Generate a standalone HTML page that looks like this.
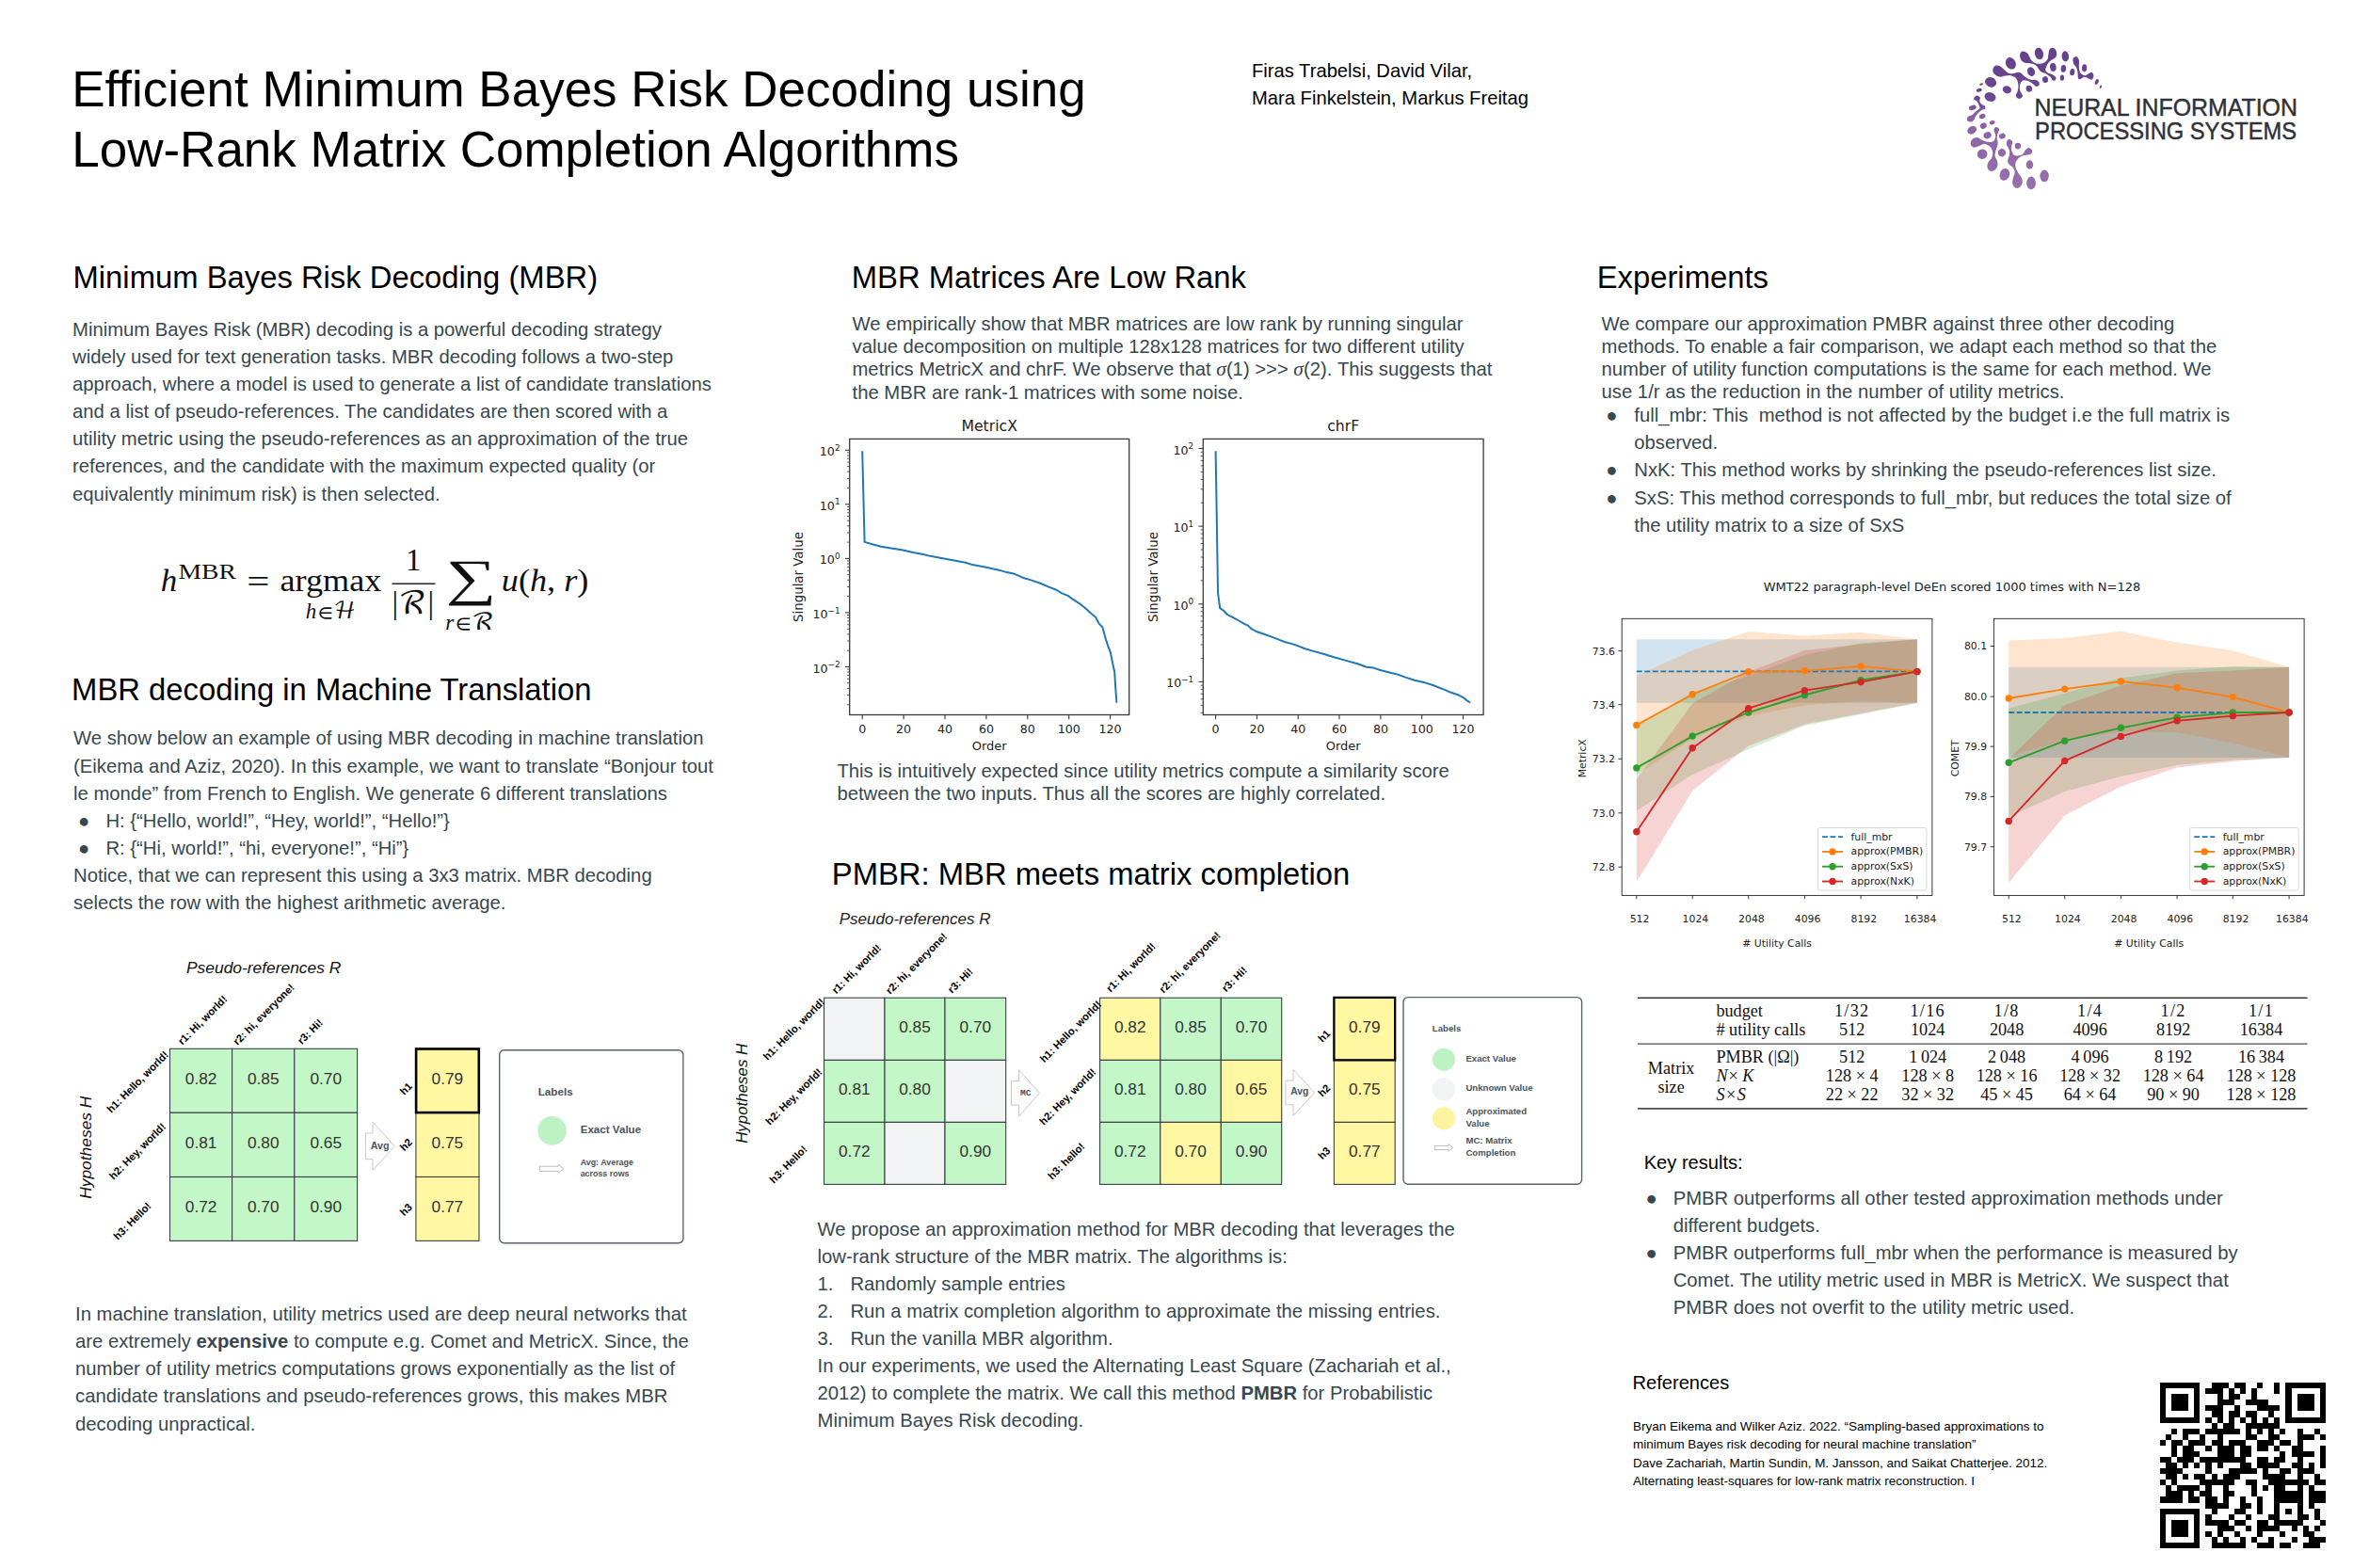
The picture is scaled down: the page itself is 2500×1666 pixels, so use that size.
<!DOCTYPE html>
<html lang="en"><head><meta charset="utf-8"><title>Efficient Minimum Bayes Risk Decoding using Low-Rank Matrix Completion Algorithms</title>
<style>
html,body{margin:0;padding:0;background:#fff;}
#pg{position:relative;width:2500px;height:1666px;overflow:hidden;background:#fff;font-family:"Liberation Sans",Arial,sans-serif;}
.t{position:absolute;white-space:nowrap;margin:0;}
.t b{font-weight:700;}
.bu{display:inline-block;width:34.4px;padding-left:4.9px;box-sizing:border-box;}
.bu2{display:inline-block;width:30.3px;padding-left:0.3px;box-sizing:border-box;}
.bu3{display:inline-block;width:30.2px;padding-left:1.1px;box-sizing:border-box;}
.nu{display:inline-block;width:34.9px;}
.sg{font-family:"Liberation Serif","DejaVu Serif",serif;font-style:italic;font-size:21.5px;line-height:0;}
svg{position:absolute;left:0;top:0;overflow:visible;}
svg text{white-space:pre;}
</style></head>
<body><div id="pg">
<div class="t " style="left:76.2px;top:62.73px;font-size:53.03px;line-height:64.2px;color:#000;">Efficient Minimum Bayes Risk Decoding using<br>Low-Rank Matrix Completion Algorithms</div>
<div class="t " style="left:1330.0px;top:60.80px;font-size:20.2px;line-height:29.0px;color:#000;">Firas Trabelsi, David Vilar,<br>Mara Finkelstein, Markus Freitag</div>
<div class="t " style="left:77.5px;top:275.13px;font-size:32.8px;line-height:40px;color:#000;">Minimum Bayes Risk Decoding (MBR)</div>
<div class="t " style="left:904.8px;top:275.13px;font-size:32.8px;line-height:40px;color:#000;">MBR Matrices Are Low Rank</div>
<div class="t " style="left:1696.7px;top:275.13px;font-size:32.8px;line-height:40px;color:#000;">Experiments</div>
<div class="t " style="left:76.1px;top:713.33px;font-size:32.8px;line-height:40px;color:#000;">MBR decoding in Machine Translation</div>
<div class="t " style="left:883.8px;top:908.53px;font-size:32.8px;line-height:40px;color:#000;">PMBR: MBR meets matrix completion</div>
<div class="t " style="left:77.1px;top:335.81px;font-size:20.262px;line-height:29.13px;color:#37474f;">Minimum Bayes Risk (MBR) decoding is a powerful decoding strategy<br>widely used for text generation tasks. MBR decoding follows a two-step<br>approach, where a model is used to generate a list of candidate translations<br>and a list of pseudo-references. The candidates are then scored with a<br>utility metric using the pseudo-references as an approximation of the true<br>references, and the candidate with the maximum expected quality (or<br>equivalently minimum risk) is then selected.</div>
<div class="t " style="left:78.1px;top:770.41px;font-size:20.262px;line-height:29.13px;color:#37474f;">We show below an example of using MBR decoding in machine translation<br>(Eikema and Aziz, 2020). In this example, we want to translate “Bonjour tout<br>le monde” from French to English. We generate 6 different translations<br><span class="bu">●</span>H: {“Hello, world!”, “Hey, world!”, “Hello!”}<br><span class="bu">●</span>R: {“Hi, world!”, “hi, everyone!”, “Hi”}<br>Notice, that we can represent this using a 3x3 matrix. MBR decoding<br>selects the row with the highest arithmetic average.</div>
<div class="t " style="left:80.1px;top:1382.11px;font-size:20.262px;line-height:29.13px;color:#37474f;">In machine translation, utility metrics used are deep neural networks that<br>are extremely <b>expensive</b> to compute e.g. Comet and MetricX. Since, the<br>number of utility metrics computations grows exponentially as the list of<br>candidate translations and pseudo-references grows, this makes MBR<br>decoding unpractical.</div>
<div class="t " style="left:905.5px;top:331.95px;font-size:20.262px;line-height:24.25px;color:#37474f;">We empirically show that MBR matrices are low rank by running singular<br>value decomposition on multiple 128x128 matrices for two different utility<br>metrics MetricX and chrF. We observe that <i class="sg">σ</i>(1) &gt;&gt;&gt; <i class="sg">σ</i>(2). This suggests that<br>the MBR are rank-1 matrices with some noise.</div>
<div class="t " style="left:889.4px;top:807.08px;font-size:20.262px;line-height:24.2px;color:#37474f;">This is intuitively expected since utility metrics compute a similarity score<br>between the two inputs. Thus all the scores are highly correlated.</div>
<div class="t " style="left:868.6px;top:1291.94px;font-size:20.262px;line-height:29.08px;color:#37474f;">We propose an approximation method for MBR decoding that leverages the<br>low-rank structure of the MBR matrix. The algorithms is:<br><span class="nu">1.</span>Randomly sample entries<br><span class="nu">2.</span>Run a matrix completion algorithm to approximate the missing entries.<br><span class="nu">3.</span>Run the vanilla MBR algorithm.<br>In our experiments, we used the Alternating Least Square (Zachariah et al.,<br>2012) to complete the matrix. We call this method <b>PMBR</b> for Probabilistic<br>Minimum Bayes Risk decoding.</div>
<div class="t " style="left:1701.6px;top:331.88px;font-size:20.262px;line-height:24.2px;color:#37474f;">We compare our approximation PMBR against three other decoding<br>methods. To enable a fair comparison, we adapt each method so that the<br>number of utility function computations is the same for each method. We<br>use 1/r as the reduction in the number of utility metrics.</div>
<div class="t " style="left:1706.0px;top:426.98px;font-size:20.262px;line-height:29.2px;color:#37474f;"><span class="bu2">●</span>full_mbr: This&nbsp; method is not affected by the budget i.e the full matrix is<br><span class="bu2"></span>observed.<br><span class="bu2">●</span>NxK: This method works by shrinking the pseudo-references list size.<br><span class="bu2">●</span>SxS: This method corresponds to full_mbr, but reduces the total size of<br><span class="bu2"></span>the utility matrix to a size of SxS</div>
<div class="t " style="left:1746.7px;top:1220.54px;font-size:20.1px;line-height:29px;color:#000;">Key results:</div>
<div class="t " style="left:1747.5px;top:1258.54px;font-size:20.262px;line-height:29.08px;color:#37474f;"><span class="bu3">●</span>PMBR outperforms all other tested approximation methods under<br><span class="bu3"></span>different budgets.<br><span class="bu3">●</span>PMBR outperforms full_mbr when the performance is measured by<br><span class="bu3"></span>Comet. The utility metric used in MBR is MetricX. We suspect that<br><span class="bu3"></span>PMBR does not overfit to the utility metric used.</div>
<div class="t " style="left:1734.5px;top:1454.94px;font-size:20.1px;line-height:29px;color:#000;">References</div>
<div class="t " style="left:1735.0px;top:1505.93px;font-size:13.48px;line-height:19.4px;color:#000;">Bryan Eikema and Wilker Aziz. 2022. “Sampling-based approximations to<br>minimum Bayes risk decoding for neural machine translation”<br>Dave Zachariah, Martin Sundin, M. Jansson, and Saikat Chatterjee. 2012.<br>Alternating least-squares for low-rank matrix reconstruction. I</div>
<svg width="2500" height="1666" viewBox="0 0 2500 1666" style="pointer-events:none">
<g fill="#111" font-family='"Liberation Serif","DejaVu Serif",serif'>
<text x="170.7" y="627.7" font-size="33" font-style="italic" textLength="17.5" lengthAdjust="spacingAndGlyphs">h</text>
<text x="189.4" y="615.1" font-size="23" textLength="61.5" lengthAdjust="spacingAndGlyphs">MBR</text>
<text x="262.3" y="628.5" font-size="33" textLength="24.2" lengthAdjust="spacingAndGlyphs">=</text>
<text x="297.5" y="627.7" font-size="33" textLength="107.8" lengthAdjust="spacingAndGlyphs">argmax</text>
<text x="324.7" y="656.6" font-size="23" font-style="italic">h</text>
<text x="337.5" y="656.6" font-size="20" font-family='"DejaVu Math TeX Gyre","DejaVu Serif","DejaVu Sans",serif' font-style="normal">∈</text>
<text x="354.5" y="656.6" font-size="24.5" textLength="23.5" lengthAdjust="spacingAndGlyphs" font-family='"DejaVu Math TeX Gyre","DejaVu Serif","DejaVu Sans",serif'>ℋ</text>
<text x="439.3" y="605.6" font-size="33" text-anchor="middle">1</text>
<rect x="416.5" y="619.5" width="45.9" height="1.4"/>
<text x="416.6" y="651.5" font-size="33">|</text>
<text x="423.0" y="651.5" font-size="33" textLength="30" lengthAdjust="spacingAndGlyphs" font-family='"DejaVu Math TeX Gyre","DejaVu Serif","DejaVu Sans",serif'>ℛ</text>
<text x="454.5" y="651.5" font-size="33">|</text>
<text x="473.8" y="632.3" font-size="54" textLength="54" lengthAdjust="spacingAndGlyphs" font-family='"Liberation Serif","DejaVu Serif",serif'>∑</text>
<text x="473.3" y="668.5" font-size="23" font-style="italic">r</text>
<text x="484.0" y="668.5" font-size="21" font-family='"DejaVu Math TeX Gyre","DejaVu Serif","DejaVu Sans",serif'>∈</text>
<text x="501.0" y="668.5" font-size="24.5" textLength="24" lengthAdjust="spacingAndGlyphs" font-family='"DejaVu Math TeX Gyre","DejaVu Serif","DejaVu Sans",serif'>ℛ</text>
<text x="532.8" y="627.7" font-size="33" textLength="92.5" lengthAdjust="spacingAndGlyphs"><tspan font-style="italic">u</tspan>(<tspan font-style="italic">h</tspan>, <tspan font-style="italic">r</tspan>)</text>
</g></svg>
<svg width="2500" height="1666" viewBox="0 0 2500 1666" style="pointer-events:none"><g font-family='"Liberation Sans",Arial,sans-serif'>
<rect x="180.5" y="1114.3" width="66.1" height="68.0" fill="#c3f7c8" stroke="#3a3f45" stroke-width="1.1"/>
<rect x="246.6" y="1114.3" width="66.2" height="68.0" fill="#c3f7c8" stroke="#3a3f45" stroke-width="1.1"/>
<rect x="312.8" y="1114.3" width="66.8" height="68.0" fill="#c3f7c8" stroke="#3a3f45" stroke-width="1.1"/>
<rect x="180.5" y="1182.3" width="66.1" height="68.2" fill="#c3f7c8" stroke="#3a3f45" stroke-width="1.1"/>
<rect x="246.6" y="1182.3" width="66.2" height="68.2" fill="#c3f7c8" stroke="#3a3f45" stroke-width="1.1"/>
<rect x="312.8" y="1182.3" width="66.8" height="68.2" fill="#c3f7c8" stroke="#3a3f45" stroke-width="1.1"/>
<rect x="180.5" y="1250.5" width="66.1" height="67.9" fill="#c3f7c8" stroke="#3a3f45" stroke-width="1.1"/>
<rect x="246.6" y="1250.5" width="66.2" height="67.9" fill="#c3f7c8" stroke="#3a3f45" stroke-width="1.1"/>
<rect x="312.8" y="1250.5" width="66.8" height="67.9" fill="#c3f7c8" stroke="#3a3f45" stroke-width="1.1"/>
<text x="213.6" y="1151.8" font-size="17.3" fill="#333333" text-anchor="middle">0.82</text>
<text x="279.7" y="1151.8" font-size="17.3" fill="#333333" text-anchor="middle">0.85</text>
<text x="346.2" y="1151.8" font-size="17.3" fill="#333333" text-anchor="middle">0.70</text>
<text x="213.6" y="1219.9" font-size="17.3" fill="#333333" text-anchor="middle">0.81</text>
<text x="279.7" y="1219.9" font-size="17.3" fill="#333333" text-anchor="middle">0.80</text>
<text x="346.2" y="1219.9" font-size="17.3" fill="#333333" text-anchor="middle">0.65</text>
<text x="213.6" y="1287.9" font-size="17.3" fill="#333333" text-anchor="middle">0.72</text>
<text x="279.7" y="1287.9" font-size="17.3" fill="#333333" text-anchor="middle">0.70</text>
<text x="346.2" y="1287.9" font-size="17.3" fill="#333333" text-anchor="middle">0.90</text>
<text x="198" y="1033.9" font-size="17.4" font-style="italic" fill="#111">Pseudo-references R</text>
<text transform="translate(96.8,1219.2) rotate(-90)" font-size="17.4" font-weight="400" font-style="italic" fill="#111" text-anchor="middle">Hypotheses H</text>
<text transform="translate(193.7,1110.8) rotate(-45)" font-size="11.2" font-weight="700" font-style="normal" fill="#000" text-anchor="start">r1: Hi, world!</text>
<text transform="translate(252.3,1111.0) rotate(-45)" font-size="11.2" font-weight="700" font-style="normal" fill="#000" text-anchor="start">r2: hi, everyone!</text>
<text transform="translate(320.7,1110.2) rotate(-45)" font-size="11.2" font-weight="700" font-style="normal" fill="#000" text-anchor="start">r3: Hi!</text>
<text transform="translate(118.2,1183.0) rotate(-45)" font-size="11.2" font-weight="700" font-style="normal" fill="#000" text-anchor="start">h1: Hello, world!</text>
<text transform="translate(120.7,1253.9) rotate(-45)" font-size="11.2" font-weight="700" font-style="normal" fill="#000" text-anchor="start">h2: Hey, world!</text>
<text transform="translate(125.2,1318.1) rotate(-45)" font-size="11.2" font-weight="700" font-style="normal" fill="#000" text-anchor="start">h3: Hello!</text>
<path d="M388.4,1204.0 L396.0,1204.0 L396.0,1192.1 L419.3,1217.8 L396.0,1243.5 L396.0,1231.6 L388.4,1231.6 Z" fill="#fdfdfb" stroke="#c9c9c9" stroke-width="1" stroke-linejoin="round"/>
<text x="403.7" y="1221.4" font-size="10.7" font-weight="700" fill="#4c535d" text-anchor="middle">Avg</text>
<rect x="441.9" y="1114.3" width="67.1" height="68.0" fill="#fff7a1" stroke="#3a3f45" stroke-width="1.1"/>
<rect x="441.9" y="1182.3" width="67.1" height="68.2" fill="#fff7a1" stroke="#3a3f45" stroke-width="1.1"/>
<rect x="441.9" y="1250.5" width="67.1" height="67.9" fill="#fff7a1" stroke="#3a3f45" stroke-width="1.1"/>
<text x="475.4" y="1151.8" font-size="17.3" fill="#333333" text-anchor="middle">0.79</text>
<text x="475.4" y="1219.9" font-size="17.3" fill="#333333" text-anchor="middle">0.75</text>
<text x="475.4" y="1287.9" font-size="17.3" fill="#333333" text-anchor="middle">0.77</text>
<rect x="442.1" y="1114.5" width="66.7" height="67.6" fill="none" stroke="#000" stroke-width="2.6"/>
<text transform="translate(429.4,1164.0) rotate(-45)" font-size="11.2" font-weight="700" font-style="normal" fill="#000" text-anchor="start">h1</text>
<text transform="translate(429.4,1223.5) rotate(-45)" font-size="11.2" font-weight="700" font-style="normal" fill="#000" text-anchor="start">h2</text>
<text transform="translate(429.4,1292.5) rotate(-45)" font-size="11.2" font-weight="700" font-style="normal" fill="#000" text-anchor="start">h3</text>
<rect x="530.7" y="1115.7" width="195.2" height="205" rx="5" ry="5" fill="#fff" stroke="#5a626e" stroke-width="1.4"/>
<text x="571.7" y="1164.2" font-size="11.7" font-weight="700" fill="#4c535d">Labels</text>
<circle cx="586.6" cy="1201.4" r="15.3" fill="#bdf2c4"/>
<text x="616.7" y="1204.3" font-size="11.6" font-weight="700" fill="#4c535d">Exact Value</text>
<path d="M573.3,1239.2 L593.1,1239.2 L593.1,1237.5 L599.1,1241.8 L593.1,1246.1 L593.1,1244.4 L573.3,1244.4 Z" fill="#fff" stroke="#b5b5b5" stroke-width="0.9" stroke-linejoin="round"/>
<text x="616.7" y="1238.2" font-size="8.9" font-weight="700" fill="#4c535d">Avg: Average</text>
<text x="616.7" y="1250.0" font-size="8.9" font-weight="700" fill="#4c535d">across rows</text>
<rect x="875.5" y="1060.2" width="64.5" height="66.2" fill="#f2f3f5" stroke="#3a3f45" stroke-width="1.1"/>
<rect x="940.0" y="1060.2" width="64.0" height="66.2" fill="#c3f7c8" stroke="#3a3f45" stroke-width="1.1"/>
<rect x="1004.0" y="1060.2" width="64.7" height="66.2" fill="#c3f7c8" stroke="#3a3f45" stroke-width="1.1"/>
<rect x="875.5" y="1126.4" width="64.5" height="66.0" fill="#c3f7c8" stroke="#3a3f45" stroke-width="1.1"/>
<rect x="940.0" y="1126.4" width="64.0" height="66.0" fill="#c3f7c8" stroke="#3a3f45" stroke-width="1.1"/>
<rect x="1004.0" y="1126.4" width="64.7" height="66.0" fill="#f2f3f5" stroke="#3a3f45" stroke-width="1.1"/>
<rect x="875.5" y="1192.4" width="64.5" height="66.0" fill="#c3f7c8" stroke="#3a3f45" stroke-width="1.1"/>
<rect x="940.0" y="1192.4" width="64.0" height="66.0" fill="#f2f3f5" stroke="#3a3f45" stroke-width="1.1"/>
<rect x="1004.0" y="1192.4" width="64.7" height="66.0" fill="#c3f7c8" stroke="#3a3f45" stroke-width="1.1"/>
<text x="972.0" y="1096.8" font-size="17.25" fill="#333333" text-anchor="middle">0.85</text>
<text x="1036.3" y="1096.8" font-size="17.25" fill="#333333" text-anchor="middle">0.70</text>
<text x="907.8" y="1162.9" font-size="17.25" fill="#333333" text-anchor="middle">0.81</text>
<text x="972.0" y="1162.9" font-size="17.25" fill="#333333" text-anchor="middle">0.80</text>
<text x="907.8" y="1228.9" font-size="17.25" fill="#333333" text-anchor="middle">0.72</text>
<text x="1036.3" y="1228.9" font-size="17.25" fill="#333333" text-anchor="middle">0.90</text>
<rect x="1168.6" y="1060.2" width="64.2" height="66.2" fill="#fff7a1" stroke="#3a3f45" stroke-width="1.1"/>
<rect x="1232.8" y="1060.2" width="64.5" height="66.2" fill="#c3f7c8" stroke="#3a3f45" stroke-width="1.1"/>
<rect x="1297.3" y="1060.2" width="64.4" height="66.2" fill="#c3f7c8" stroke="#3a3f45" stroke-width="1.1"/>
<rect x="1168.6" y="1126.4" width="64.2" height="66.0" fill="#c3f7c8" stroke="#3a3f45" stroke-width="1.1"/>
<rect x="1232.8" y="1126.4" width="64.5" height="66.0" fill="#c3f7c8" stroke="#3a3f45" stroke-width="1.1"/>
<rect x="1297.3" y="1126.4" width="64.4" height="66.0" fill="#fff7a1" stroke="#3a3f45" stroke-width="1.1"/>
<rect x="1168.6" y="1192.4" width="64.2" height="66.0" fill="#c3f7c8" stroke="#3a3f45" stroke-width="1.1"/>
<rect x="1232.8" y="1192.4" width="64.5" height="66.0" fill="#fff7a1" stroke="#3a3f45" stroke-width="1.1"/>
<rect x="1297.3" y="1192.4" width="64.4" height="66.0" fill="#c3f7c8" stroke="#3a3f45" stroke-width="1.1"/>
<text x="1200.7" y="1096.8" font-size="17.25" fill="#333333" text-anchor="middle">0.82</text>
<text x="1265.0" y="1096.8" font-size="17.25" fill="#333333" text-anchor="middle">0.85</text>
<text x="1329.5" y="1096.8" font-size="17.25" fill="#333333" text-anchor="middle">0.70</text>
<text x="1200.7" y="1162.9" font-size="17.25" fill="#333333" text-anchor="middle">0.81</text>
<text x="1265.0" y="1162.9" font-size="17.25" fill="#333333" text-anchor="middle">0.80</text>
<text x="1329.5" y="1162.9" font-size="17.25" fill="#333333" text-anchor="middle">0.65</text>
<text x="1200.7" y="1228.9" font-size="17.25" fill="#333333" text-anchor="middle">0.72</text>
<text x="1265.0" y="1228.9" font-size="17.25" fill="#333333" text-anchor="middle">0.70</text>
<text x="1329.5" y="1228.9" font-size="17.25" fill="#333333" text-anchor="middle">0.90</text>
<text x="891.7" y="982.4" font-size="17.05" font-style="italic" fill="#222">Pseudo-references R</text>
<text transform="translate(793.5,1161.8) rotate(-90)" font-size="16.9" font-weight="400" font-style="italic" fill="#111" text-anchor="middle">Hypotheses H</text>
<text transform="translate(888.5,1056.5) rotate(-45)" font-size="11.2" font-weight="700" font-style="normal" fill="#000" text-anchor="start">r1: Hi, world!</text>
<text transform="translate(945.8,1056.9) rotate(-45)" font-size="11.2" font-weight="700" font-style="normal" fill="#000" text-anchor="start">r2: hi, everyone!</text>
<text transform="translate(1011.6,1055.9) rotate(-45)" font-size="11.2" font-weight="700" font-style="normal" fill="#000" text-anchor="start">r3: Hi!</text>
<text transform="translate(815.4,1127.0) rotate(-45)" font-size="11.2" font-weight="700" font-style="normal" fill="#000" text-anchor="start">h1: Hello, world!</text>
<text transform="translate(818.1,1195.9) rotate(-45)" font-size="11.2" font-weight="700" font-style="normal" fill="#000" text-anchor="start">h2: Hey, world!</text>
<text transform="translate(822.3,1257.9) rotate(-45)" font-size="11.2" font-weight="700" font-style="normal" fill="#000" text-anchor="start">h3: Hello!</text>
<text transform="translate(1180.0,1054.7) rotate(-45)" font-size="11.2" font-weight="700" font-style="normal" fill="#000" text-anchor="start">r1: Hi, world!</text>
<text transform="translate(1236.3,1055.7) rotate(-45)" font-size="11.2" font-weight="700" font-style="normal" fill="#000" text-anchor="start">r2: hi, everyone!</text>
<text transform="translate(1302.7,1054.5) rotate(-45)" font-size="11.2" font-weight="700" font-style="normal" fill="#000" text-anchor="start">r3: Hi!</text>
<text transform="translate(1109.4,1129.5) rotate(-45)" font-size="11.2" font-weight="700" font-style="normal" fill="#000" text-anchor="start">h1: Hello, world!</text>
<text transform="translate(1109.0,1195.9) rotate(-45)" font-size="11.2" font-weight="700" font-style="normal" fill="#000" text-anchor="start">h2: Hey, world!</text>
<text transform="translate(1118.0,1253.9) rotate(-45)" font-size="11.2" font-weight="700" font-style="normal" fill="#000" text-anchor="start">h3: hello!</text>
<path d="M1074.5,1148.6 L1082.5,1148.6 L1082.5,1136.8 L1104.5,1161.4 L1082.5,1186.1 L1082.5,1174.2 L1074.5,1174.2 Z" fill="#fdfdfb" stroke="#c9c9c9" stroke-width="1" stroke-linejoin="round"/>
<text x="1089.7" y="1164.1" font-size="9.6" font-weight="700" fill="#4c535d" text-anchor="middle" font-family='"Liberation Mono",monospace'>MC</text>
<path d="M1366.0,1148.1 L1374.0,1148.1 L1374.0,1136.2 L1396.5,1160.9 L1374.0,1185.6 L1374.0,1173.8 L1366.0,1173.8 Z" fill="#fdfdfb" stroke="#c9c9c9" stroke-width="1" stroke-linejoin="round"/>
<text x="1380.8" y="1163.0" font-size="10.3" font-weight="700" fill="#4c535d" text-anchor="middle">Avg</text>
<rect x="1417.4" y="1060.2" width="64.8" height="66.2" fill="#fff7a1" stroke="#3a3f45" stroke-width="1.1"/>
<rect x="1417.4" y="1126.4" width="64.8" height="66.0" fill="#fff7a1" stroke="#3a3f45" stroke-width="1.1"/>
<rect x="1417.4" y="1192.4" width="64.8" height="66.0" fill="#fff7a1" stroke="#3a3f45" stroke-width="1.1"/>
<text x="1449.8" y="1096.8" font-size="17.25" fill="#333333" text-anchor="middle">0.79</text>
<text x="1449.8" y="1162.9" font-size="17.25" fill="#333333" text-anchor="middle">0.75</text>
<text x="1449.8" y="1228.9" font-size="17.25" fill="#333333" text-anchor="middle">0.77</text>
<rect x="1417.4" y="1059.9" width="64.8" height="66.5" fill="none" stroke="#000" stroke-width="2.3"/>
<text transform="translate(1404.9,1108.0) rotate(-45)" font-size="11.2" font-weight="700" font-style="normal" fill="#000" text-anchor="start">h1</text>
<text transform="translate(1404.9,1166.0) rotate(-45)" font-size="11.2" font-weight="700" font-style="normal" fill="#000" text-anchor="start">h2</text>
<text transform="translate(1404.9,1232.5) rotate(-45)" font-size="11.2" font-weight="700" font-style="normal" fill="#000" text-anchor="start">h3</text>
<rect x="1491.0" y="1059.6" width="189.6" height="198.6" rx="5" ry="5" fill="#fff" stroke="#5a626e" stroke-width="1.4"/>
<text x="1521.8" y="1096.2" font-size="9.65" font-weight="700" fill="#4c535d">Labels</text>
<circle cx="1534.0" cy="1125.8" r="12.1" fill="#bdf2c4"/>
<circle cx="1534.0" cy="1157.1" r="12.1" fill="#f2f3f5"/>
<circle cx="1534.0" cy="1188.3" r="12.1" fill="#fff3a0"/>
<text x="1557.4" y="1127.8" font-size="9.65" font-weight="700" fill="#4c535d">Exact Value</text>
<text x="1557.4" y="1159.4" font-size="9.65" font-weight="700" fill="#4c535d">Unknown Value</text>
<text x="1557.4" y="1184.0" font-size="9.65" font-weight="700" fill="#4c535d">Approximated</text>
<text x="1557.4" y="1196.6" font-size="9.65" font-weight="700" fill="#4c535d">Value</text>
<text x="1557.4" y="1215.2" font-size="9.65" font-weight="700" fill="#4c535d">MC: Matrix</text>
<text x="1557.4" y="1227.8" font-size="9.65" font-weight="700" fill="#4c535d">Completion</text>
<path d="M1524.2,1217.4 L1538.9,1217.4 L1538.9,1215.8 L1543.9,1219.5 L1538.9,1223.2 L1538.9,1221.6 L1524.2,1221.6 Z" fill="#fff" stroke="#b5b5b5" stroke-width="0.9" stroke-linejoin="round"/>
</g></svg>
<svg width="2500" height="1666" viewBox="0 0 2500 1666" style="pointer-events:none"><g font-family='"DejaVu Sans",Verdana,sans-serif'>
<path d="M916.2,479.2 L918.6,575.9 L926.6,578.3 L936.3,580.7 L948.4,582.7 L959.3,584.6 L970.2,587.0 L979.9,588.7 L989.6,591.1 L1004.2,593.8 L1013.8,595.5 L1026.0,597.7 L1033.2,600.1 L1047.8,602.8 L1062.3,605.9 L1069.6,608.1 L1078.1,609.8 L1086.5,613.7 L1096.2,616.6 L1105.9,620.0 L1113.2,623.1 L1122.9,627.0 L1127.7,630.1 L1135.0,633.1 L1139.8,636.7 L1147.1,641.3 L1154.4,647.3 L1159.2,651.7 L1164.1,655.8 L1167.7,662.6 L1171.3,666.2 L1175.0,679.6 L1177.4,686.8 L1179.8,692.9 L1182.2,705.0 L1184.2,714.0 L1185.2,730.5 L1186.4,746.7" fill="none" stroke="#1f77b4" stroke-width="2.0" stroke-linejoin="round" stroke-linecap="butt"/>
<rect x="902.7" y="466.4" width="297.0" height="293.1" fill="none" stroke="#3a3a3a" stroke-width="1.3"/>
<line x1="916.2" y1="759.5" x2="916.2" y2="764.3" stroke="#333" stroke-width="1.05"/>
<text x="916.2" y="779.1" font-size="12.6" text-anchor="middle" fill="#222">0</text>
<line x1="960.1" y1="759.5" x2="960.1" y2="764.3" stroke="#333" stroke-width="1.05"/>
<text x="960.1" y="779.1" font-size="12.6" text-anchor="middle" fill="#222">20</text>
<line x1="1004.0" y1="759.5" x2="1004.0" y2="764.3" stroke="#333" stroke-width="1.05"/>
<text x="1004.0" y="779.1" font-size="12.6" text-anchor="middle" fill="#222">40</text>
<line x1="1047.9" y1="759.5" x2="1047.9" y2="764.3" stroke="#333" stroke-width="1.05"/>
<text x="1047.9" y="779.1" font-size="12.6" text-anchor="middle" fill="#222">60</text>
<line x1="1091.8" y1="759.5" x2="1091.8" y2="764.3" stroke="#333" stroke-width="1.05"/>
<text x="1091.8" y="779.1" font-size="12.6" text-anchor="middle" fill="#222">80</text>
<line x1="1135.7" y1="759.5" x2="1135.7" y2="764.3" stroke="#333" stroke-width="1.05"/>
<text x="1135.7" y="779.1" font-size="12.6" text-anchor="middle" fill="#222">100</text>
<line x1="1179.6" y1="759.5" x2="1179.6" y2="764.3" stroke="#333" stroke-width="1.05"/>
<text x="1179.6" y="779.1" font-size="12.6" text-anchor="middle" fill="#222">120</text>
<text x="1051.2" y="796.5" font-size="13.0" text-anchor="middle" fill="#222">Order</text>
<line x1="897.9" y1="708.5" x2="902.7" y2="708.5" stroke="#333" stroke-width="1.05"/>
<text x="892.5" y="714.5" font-size="12.6" text-anchor="end" fill="#222">10<tspan font-size="8.8" dy="-5.4">−2</tspan></text>
<line x1="897.9" y1="650.9" x2="902.7" y2="650.9" stroke="#333" stroke-width="1.05"/>
<text x="892.5" y="656.9" font-size="12.6" text-anchor="end" fill="#222">10<tspan font-size="8.8" dy="-5.4">−1</tspan></text>
<line x1="897.9" y1="593.4" x2="902.7" y2="593.4" stroke="#333" stroke-width="1.05"/>
<text x="892.5" y="599.4" font-size="12.6" text-anchor="end" fill="#222">10<tspan font-size="8.8" dy="-5.4">0</tspan></text>
<line x1="897.9" y1="535.8" x2="902.7" y2="535.8" stroke="#333" stroke-width="1.05"/>
<text x="892.5" y="541.8" font-size="12.6" text-anchor="end" fill="#222">10<tspan font-size="8.8" dy="-5.4">1</tspan></text>
<line x1="897.9" y1="478.3" x2="902.7" y2="478.3" stroke="#333" stroke-width="1.05"/>
<text x="892.5" y="484.3" font-size="12.6" text-anchor="end" fill="#222">10<tspan font-size="8.8" dy="-5.4">2</tspan></text>
<line x1="900.0" y1="748.7" x2="902.7" y2="748.7" stroke="#333" stroke-width="0.8"/>
<line x1="900.0" y1="738.6" x2="902.7" y2="738.6" stroke="#333" stroke-width="0.8"/>
<line x1="900.0" y1="731.4" x2="902.7" y2="731.4" stroke="#333" stroke-width="0.8"/>
<line x1="900.0" y1="725.8" x2="902.7" y2="725.8" stroke="#333" stroke-width="0.8"/>
<line x1="900.0" y1="721.3" x2="902.7" y2="721.3" stroke="#333" stroke-width="0.8"/>
<line x1="900.0" y1="717.4" x2="902.7" y2="717.4" stroke="#333" stroke-width="0.8"/>
<line x1="900.0" y1="714.1" x2="902.7" y2="714.1" stroke="#333" stroke-width="0.8"/>
<line x1="900.0" y1="711.1" x2="902.7" y2="711.1" stroke="#333" stroke-width="0.8"/>
<line x1="900.0" y1="691.2" x2="902.7" y2="691.2" stroke="#333" stroke-width="0.8"/>
<line x1="900.0" y1="681.0" x2="902.7" y2="681.0" stroke="#333" stroke-width="0.8"/>
<line x1="900.0" y1="673.9" x2="902.7" y2="673.9" stroke="#333" stroke-width="0.8"/>
<line x1="900.0" y1="668.3" x2="902.7" y2="668.3" stroke="#333" stroke-width="0.8"/>
<line x1="900.0" y1="663.7" x2="902.7" y2="663.7" stroke="#333" stroke-width="0.8"/>
<line x1="900.0" y1="659.9" x2="902.7" y2="659.9" stroke="#333" stroke-width="0.8"/>
<line x1="900.0" y1="656.5" x2="902.7" y2="656.5" stroke="#333" stroke-width="0.8"/>
<line x1="900.0" y1="653.6" x2="902.7" y2="653.6" stroke="#333" stroke-width="0.8"/>
<line x1="900.0" y1="633.6" x2="902.7" y2="633.6" stroke="#333" stroke-width="0.8"/>
<line x1="900.0" y1="623.5" x2="902.7" y2="623.5" stroke="#333" stroke-width="0.8"/>
<line x1="900.0" y1="616.3" x2="902.7" y2="616.3" stroke="#333" stroke-width="0.8"/>
<line x1="900.0" y1="610.7" x2="902.7" y2="610.7" stroke="#333" stroke-width="0.8"/>
<line x1="900.0" y1="606.2" x2="902.7" y2="606.2" stroke="#333" stroke-width="0.8"/>
<line x1="900.0" y1="602.3" x2="902.7" y2="602.3" stroke="#333" stroke-width="0.8"/>
<line x1="900.0" y1="599.0" x2="902.7" y2="599.0" stroke="#333" stroke-width="0.8"/>
<line x1="900.0" y1="596.0" x2="902.7" y2="596.0" stroke="#333" stroke-width="0.8"/>
<line x1="900.0" y1="576.1" x2="902.7" y2="576.1" stroke="#333" stroke-width="0.8"/>
<line x1="900.0" y1="565.9" x2="902.7" y2="565.9" stroke="#333" stroke-width="0.8"/>
<line x1="900.0" y1="558.8" x2="902.7" y2="558.8" stroke="#333" stroke-width="0.8"/>
<line x1="900.0" y1="553.2" x2="902.7" y2="553.2" stroke="#333" stroke-width="0.8"/>
<line x1="900.0" y1="548.6" x2="902.7" y2="548.6" stroke="#333" stroke-width="0.8"/>
<line x1="900.0" y1="544.8" x2="902.7" y2="544.8" stroke="#333" stroke-width="0.8"/>
<line x1="900.0" y1="541.4" x2="902.7" y2="541.4" stroke="#333" stroke-width="0.8"/>
<line x1="900.0" y1="538.5" x2="902.7" y2="538.5" stroke="#333" stroke-width="0.8"/>
<line x1="900.0" y1="518.5" x2="902.7" y2="518.5" stroke="#333" stroke-width="0.8"/>
<line x1="900.0" y1="508.4" x2="902.7" y2="508.4" stroke="#333" stroke-width="0.8"/>
<line x1="900.0" y1="501.2" x2="902.7" y2="501.2" stroke="#333" stroke-width="0.8"/>
<line x1="900.0" y1="495.6" x2="902.7" y2="495.6" stroke="#333" stroke-width="0.8"/>
<line x1="900.0" y1="491.1" x2="902.7" y2="491.1" stroke="#333" stroke-width="0.8"/>
<line x1="900.0" y1="487.2" x2="902.7" y2="487.2" stroke="#333" stroke-width="0.8"/>
<line x1="900.0" y1="483.9" x2="902.7" y2="483.9" stroke="#333" stroke-width="0.8"/>
<line x1="900.0" y1="480.9" x2="902.7" y2="480.9" stroke="#333" stroke-width="0.8"/>
<text x="1051.2" y="457.8" font-size="15.7" text-anchor="middle" fill="#222">MetricX</text>
<text transform="translate(852.8,613.0) rotate(-90)" font-size="13.35" text-anchor="middle" fill="#222">Singular Value</text>
<path d="M1291.6,479.2 L1292.8,551.2 L1294.0,629.9 L1296.2,646.1 L1300.6,649.3 L1304.2,653.2 L1310.2,656.1 L1316.3,659.5 L1322.4,663.1 L1326.0,664.6 L1329.6,668.2 L1335.7,671.3 L1343.0,673.8 L1350.2,676.4 L1357.5,679.1 L1364.8,682.0 L1372.0,683.9 L1379.3,686.4 L1386.6,689.3 L1393.8,691.4 L1406.0,694.8 L1418.1,698.5 L1430.2,701.9 L1442.3,705.3 L1452.0,708.7 L1459.3,709.6 L1466.5,712.0 L1476.2,714.5 L1485.9,716.9 L1493.2,719.6 L1502.9,722.7 L1512.6,724.9 L1522.3,728.0 L1532.0,731.7 L1541.7,735.8 L1548.9,738.2 L1555.0,741.4 L1558.6,744.3 L1562.2,746.5" fill="none" stroke="#1f77b4" stroke-width="2.0" stroke-linejoin="round" stroke-linecap="butt"/>
<rect x="1278.3" y="466.4" width="297.8" height="293.1" fill="none" stroke="#3a3a3a" stroke-width="1.3"/>
<line x1="1291.6" y1="759.5" x2="1291.6" y2="764.3" stroke="#333" stroke-width="1.05"/>
<text x="1291.6" y="779.1" font-size="12.6" text-anchor="middle" fill="#222">0</text>
<line x1="1335.4" y1="759.5" x2="1335.4" y2="764.3" stroke="#333" stroke-width="1.05"/>
<text x="1335.4" y="779.1" font-size="12.6" text-anchor="middle" fill="#222">20</text>
<line x1="1379.2" y1="759.5" x2="1379.2" y2="764.3" stroke="#333" stroke-width="1.05"/>
<text x="1379.2" y="779.1" font-size="12.6" text-anchor="middle" fill="#222">40</text>
<line x1="1423.0" y1="759.5" x2="1423.0" y2="764.3" stroke="#333" stroke-width="1.05"/>
<text x="1423.0" y="779.1" font-size="12.6" text-anchor="middle" fill="#222">60</text>
<line x1="1466.9" y1="759.5" x2="1466.9" y2="764.3" stroke="#333" stroke-width="1.05"/>
<text x="1466.9" y="779.1" font-size="12.6" text-anchor="middle" fill="#222">80</text>
<line x1="1510.7" y1="759.5" x2="1510.7" y2="764.3" stroke="#333" stroke-width="1.05"/>
<text x="1510.7" y="779.1" font-size="12.6" text-anchor="middle" fill="#222">100</text>
<line x1="1554.5" y1="759.5" x2="1554.5" y2="764.3" stroke="#333" stroke-width="1.05"/>
<text x="1554.5" y="779.1" font-size="12.6" text-anchor="middle" fill="#222">120</text>
<text x="1427.2" y="796.5" font-size="13.0" text-anchor="middle" fill="#222">Order</text>
<line x1="1273.5" y1="724.4" x2="1278.3" y2="724.4" stroke="#333" stroke-width="1.05"/>
<text x="1268.2" y="730.4" font-size="12.6" text-anchor="end" fill="#222">10<tspan font-size="8.8" dy="-5.4">−1</tspan></text>
<line x1="1273.5" y1="641.8" x2="1278.3" y2="641.8" stroke="#333" stroke-width="1.05"/>
<text x="1268.2" y="647.8" font-size="12.6" text-anchor="end" fill="#222">10<tspan font-size="8.8" dy="-5.4">0</tspan></text>
<line x1="1273.5" y1="559.1" x2="1278.3" y2="559.1" stroke="#333" stroke-width="1.05"/>
<text x="1268.2" y="565.1" font-size="12.6" text-anchor="end" fill="#222">10<tspan font-size="8.8" dy="-5.4">1</tspan></text>
<line x1="1273.5" y1="476.5" x2="1278.3" y2="476.5" stroke="#333" stroke-width="1.05"/>
<text x="1268.2" y="482.5" font-size="12.6" text-anchor="end" fill="#222">10<tspan font-size="8.8" dy="-5.4">2</tspan></text>
<line x1="1275.6" y1="757.3" x2="1278.3" y2="757.3" stroke="#333" stroke-width="0.8"/>
<line x1="1275.6" y1="749.3" x2="1278.3" y2="749.3" stroke="#333" stroke-width="0.8"/>
<line x1="1275.6" y1="742.8" x2="1278.3" y2="742.8" stroke="#333" stroke-width="0.8"/>
<line x1="1275.6" y1="737.2" x2="1278.3" y2="737.2" stroke="#333" stroke-width="0.8"/>
<line x1="1275.6" y1="732.4" x2="1278.3" y2="732.4" stroke="#333" stroke-width="0.8"/>
<line x1="1275.6" y1="728.2" x2="1278.3" y2="728.2" stroke="#333" stroke-width="0.8"/>
<line x1="1275.6" y1="699.6" x2="1278.3" y2="699.6" stroke="#333" stroke-width="0.8"/>
<line x1="1275.6" y1="685.0" x2="1278.3" y2="685.0" stroke="#333" stroke-width="0.8"/>
<line x1="1275.6" y1="674.7" x2="1278.3" y2="674.7" stroke="#333" stroke-width="0.8"/>
<line x1="1275.6" y1="666.7" x2="1278.3" y2="666.7" stroke="#333" stroke-width="0.8"/>
<line x1="1275.6" y1="660.1" x2="1278.3" y2="660.1" stroke="#333" stroke-width="0.8"/>
<line x1="1275.6" y1="654.6" x2="1278.3" y2="654.6" stroke="#333" stroke-width="0.8"/>
<line x1="1275.6" y1="649.8" x2="1278.3" y2="649.8" stroke="#333" stroke-width="0.8"/>
<line x1="1275.6" y1="645.6" x2="1278.3" y2="645.6" stroke="#333" stroke-width="0.8"/>
<line x1="1275.6" y1="616.9" x2="1278.3" y2="616.9" stroke="#333" stroke-width="0.8"/>
<line x1="1275.6" y1="602.4" x2="1278.3" y2="602.4" stroke="#333" stroke-width="0.8"/>
<line x1="1275.6" y1="592.0" x2="1278.3" y2="592.0" stroke="#333" stroke-width="0.8"/>
<line x1="1275.6" y1="584.0" x2="1278.3" y2="584.0" stroke="#333" stroke-width="0.8"/>
<line x1="1275.6" y1="577.5" x2="1278.3" y2="577.5" stroke="#333" stroke-width="0.8"/>
<line x1="1275.6" y1="572.0" x2="1278.3" y2="572.0" stroke="#333" stroke-width="0.8"/>
<line x1="1275.6" y1="567.2" x2="1278.3" y2="567.2" stroke="#333" stroke-width="0.8"/>
<line x1="1275.6" y1="562.9" x2="1278.3" y2="562.9" stroke="#333" stroke-width="0.8"/>
<line x1="1275.6" y1="534.3" x2="1278.3" y2="534.3" stroke="#333" stroke-width="0.8"/>
<line x1="1275.6" y1="519.7" x2="1278.3" y2="519.7" stroke="#333" stroke-width="0.8"/>
<line x1="1275.6" y1="509.4" x2="1278.3" y2="509.4" stroke="#333" stroke-width="0.8"/>
<line x1="1275.6" y1="501.4" x2="1278.3" y2="501.4" stroke="#333" stroke-width="0.8"/>
<line x1="1275.6" y1="494.9" x2="1278.3" y2="494.9" stroke="#333" stroke-width="0.8"/>
<line x1="1275.6" y1="489.3" x2="1278.3" y2="489.3" stroke="#333" stroke-width="0.8"/>
<line x1="1275.6" y1="484.5" x2="1278.3" y2="484.5" stroke="#333" stroke-width="0.8"/>
<line x1="1275.6" y1="480.3" x2="1278.3" y2="480.3" stroke="#333" stroke-width="0.8"/>
<text x="1427.2" y="457.8" font-size="15.7" text-anchor="middle" fill="#222">chrF</text>
<text transform="translate(1229.6,613.0) rotate(-90)" font-size="13.35" text-anchor="middle" fill="#222">Singular Value</text>
</g></svg>
<svg width="2500" height="1666" viewBox="0 0 2500 1666" style="pointer-events:none"><g font-family='"DejaVu Sans",Verdana,sans-serif'>
<text x="2074" y="628.1" font-size="13.0" text-anchor="middle" fill="#222">WMT22 paragraph-level DeEn scored 1000 times with N=128</text>
<rect x="1738.8" y="679.3" width="298.1" height="67.5" fill="#1f77b4" fill-opacity="0.2"/>
<path d="M1738.8,717.9 L1798.2,691.1 L1857.7,671.0 L1917.4,675.5 L1977.1,671.8 L2036.9,679.3 L2036.9,746.8 L1977.1,744.6 L1917.4,749.5 L1857.7,760.7 L1798.2,784.8 L1738.8,823.1 Z" fill="#ff7f0e" fill-opacity="0.2" stroke="none"/>
<path d="M1738.8,770.6 L1798.2,736.1 L1857.7,717.9 L1917.4,695.9 L1977.1,683.3 L2036.9,679.3 L2036.9,746.8 L1977.1,759.1 L1917.4,770.9 L1857.7,796.3 L1798.2,823.1 L1738.8,861.4 Z" fill="#2ca02c" fill-opacity="0.2" stroke="none"/>
<path d="M1738.8,827.9 L1798.2,747.6 L1857.7,713.8 L1917.4,691.1 L1977.1,684.4 L2036.9,679.3 L2036.9,746.8 L1977.1,758.0 L1917.4,769.6 L1857.7,792.6 L1798.2,840.3 L1738.8,937.0 Z" fill="#d62728" fill-opacity="0.2" stroke="none"/>
<line x1="1738.8" y1="713.3" x2="2036.9" y2="713.3" stroke="#1f77b4" stroke-width="1.85" stroke-dasharray="5.9,2.6"/>
<path d="M1738.8,770.4 L1798.2,737.7 L1857.7,713.8 L1917.4,712.8 L1977.1,707.9 L2036.9,713.6" fill="none" stroke="#ff7f0e" stroke-width="1.85" stroke-linejoin="round"/>
<circle cx="1738.8" cy="770.4" r="3.7" fill="#ff7f0e"/>
<circle cx="1798.2" cy="737.7" r="3.7" fill="#ff7f0e"/>
<circle cx="1857.7" cy="713.8" r="3.7" fill="#ff7f0e"/>
<circle cx="1917.4" cy="712.8" r="3.7" fill="#ff7f0e"/>
<circle cx="1977.1" cy="707.9" r="3.7" fill="#ff7f0e"/>
<circle cx="2036.9" cy="713.6" r="3.7" fill="#ff7f0e"/>
<path d="M1738.8,815.9 L1798.2,782.1 L1857.7,757.0 L1917.4,738.5 L1977.1,722.7 L2036.9,713.6" fill="none" stroke="#2ca02c" stroke-width="1.85" stroke-linejoin="round"/>
<circle cx="1738.8" cy="815.9" r="3.7" fill="#2ca02c"/>
<circle cx="1798.2" cy="782.1" r="3.7" fill="#2ca02c"/>
<circle cx="1857.7" cy="757.0" r="3.7" fill="#2ca02c"/>
<circle cx="1917.4" cy="738.5" r="3.7" fill="#2ca02c"/>
<circle cx="1977.1" cy="722.7" r="3.7" fill="#2ca02c"/>
<circle cx="2036.9" cy="713.6" r="3.7" fill="#2ca02c"/>
<path d="M1738.8,883.7 L1798.2,794.7 L1857.7,752.7 L1917.4,733.7 L1977.1,724.6 L2036.9,713.6" fill="none" stroke="#d62728" stroke-width="1.85" stroke-linejoin="round"/>
<circle cx="1738.8" cy="883.7" r="3.7" fill="#d62728"/>
<circle cx="1798.2" cy="794.7" r="3.7" fill="#d62728"/>
<circle cx="1857.7" cy="752.7" r="3.7" fill="#d62728"/>
<circle cx="1917.4" cy="733.7" r="3.7" fill="#d62728"/>
<circle cx="1977.1" cy="724.6" r="3.7" fill="#d62728"/>
<circle cx="2036.9" cy="713.6" r="3.7" fill="#d62728"/>
<rect x="1723.2" y="657.3" width="329.7" height="294.1" fill="none" stroke="#222" stroke-width="0.9"/>
<line x1="1738.8" y1="951.4" x2="1738.8" y2="955.2" stroke="#222" stroke-width="0.9"/>
<text x="1742.0" y="979.7" font-size="10.85" text-anchor="middle" fill="#222">512</text>
<line x1="1798.2" y1="951.4" x2="1798.2" y2="955.2" stroke="#222" stroke-width="0.9"/>
<text x="1801.4" y="979.7" font-size="10.85" text-anchor="middle" fill="#222">1024</text>
<line x1="1857.7" y1="951.4" x2="1857.7" y2="955.2" stroke="#222" stroke-width="0.9"/>
<text x="1860.9" y="979.7" font-size="10.85" text-anchor="middle" fill="#222">2048</text>
<line x1="1917.4" y1="951.4" x2="1917.4" y2="955.2" stroke="#222" stroke-width="0.9"/>
<text x="1920.6" y="979.7" font-size="10.85" text-anchor="middle" fill="#222">4096</text>
<line x1="1977.1" y1="951.4" x2="1977.1" y2="955.2" stroke="#222" stroke-width="0.9"/>
<text x="1980.3" y="979.7" font-size="10.85" text-anchor="middle" fill="#222">8192</text>
<line x1="2036.9" y1="951.4" x2="2036.9" y2="955.2" stroke="#222" stroke-width="0.9"/>
<text x="2040.1" y="979.7" font-size="10.85" text-anchor="middle" fill="#222">16384</text>
<text x="1888.1" y="1005.7" font-size="10.85" text-anchor="middle" fill="#222"># Utility Calls</text>
<line x1="1719.4" y1="691.6" x2="1723.2" y2="691.6" stroke="#222" stroke-width="0.9"/>
<text x="1715.9" y="695.5" font-size="10.85" text-anchor="end" fill="#222">73.6</text>
<line x1="1719.4" y1="748.7" x2="1723.2" y2="748.7" stroke="#222" stroke-width="0.9"/>
<text x="1715.9" y="752.6" font-size="10.85" text-anchor="end" fill="#222">73.4</text>
<line x1="1719.4" y1="806.3" x2="1723.2" y2="806.3" stroke="#222" stroke-width="0.9"/>
<text x="1715.9" y="810.2" font-size="10.85" text-anchor="end" fill="#222">73.2</text>
<line x1="1719.4" y1="863.8" x2="1723.2" y2="863.8" stroke="#222" stroke-width="0.9"/>
<text x="1715.9" y="867.7" font-size="10.85" text-anchor="end" fill="#222">73.0</text>
<line x1="1719.4" y1="921.2" x2="1723.2" y2="921.2" stroke="#222" stroke-width="0.9"/>
<text x="1715.9" y="925.1" font-size="10.85" text-anchor="end" fill="#222">72.8</text>
<text transform="translate(1685.0,805.8) rotate(-90)" font-size="10.85" text-anchor="middle" fill="#222">MetricX</text>
<rect x="1931.5" y="879.5" width="115.5" height="66.5" rx="2.2" fill="#fff" fill-opacity="0.8" stroke="#d4d4d4" stroke-width="0.9"/>
<line x1="1936.0" y1="889.1" x2="1958.0" y2="889.1" stroke="#1f77b4" stroke-width="1.85" stroke-dasharray="5.9,2.6"/>
<text x="1966.5" y="892.5" font-size="10.85" fill="#222">full_mbr</text>
<line x1="1936.0" y1="904.9" x2="1958.0" y2="904.9" stroke="#ff7f0e" stroke-width="1.85"/>
<circle cx="1947.0" cy="904.9" r="3.7" fill="#ff7f0e"/>
<text x="1966.5" y="908.3" font-size="10.85" fill="#222">approx(PMBR)</text>
<line x1="1936.0" y1="920.7" x2="1958.0" y2="920.7" stroke="#2ca02c" stroke-width="1.85"/>
<circle cx="1947.0" cy="920.7" r="3.7" fill="#2ca02c"/>
<text x="1966.5" y="924.1" font-size="10.85" fill="#222">approx(SxS)</text>
<line x1="1936.0" y1="936.5" x2="1958.0" y2="936.5" stroke="#d62728" stroke-width="1.85"/>
<circle cx="1947.0" cy="936.5" r="3.7" fill="#d62728"/>
<text x="1966.5" y="939.9" font-size="10.85" fill="#222">approx(NxK)</text>
<rect x="2134.2" y="708.8" width="297.9" height="96.2" fill="#1f77b4" fill-opacity="0.2"/>
<path d="M2134.2,680.6 L2193.7,677.9 L2253.4,670.7 L2313.1,682.5 L2372.3,691.3 L2432.1,708.8 L2432.1,804.9 L2372.3,789.6 L2313.1,778.1 L2253.4,777.3 L2193.7,786.7 L2134.2,803.6 Z" fill="#ff7f0e" fill-opacity="0.2" stroke="none"/>
<path d="M2134.2,752.7 L2193.7,736.6 L2253.4,720.5 L2313.1,712.5 L2372.3,707.9 L2432.1,708.8 L2432.1,804.9 L2372.3,807.6 L2313.1,812.9 L2253.4,825.0 L2193.7,841.1 L2134.2,867.9 Z" fill="#2ca02c" fill-opacity="0.2" stroke="none"/>
<path d="M2134.2,806.3 L2193.7,748.9 L2253.4,728.6 L2313.1,715.2 L2372.3,712.5 L2432.1,708.8 L2432.1,804.9 L2372.3,808.9 L2313.1,815.6 L2253.4,835.7 L2193.7,866.5 L2134.2,938.0 Z" fill="#d62728" fill-opacity="0.2" stroke="none"/>
<line x1="2134.2" y1="757.0" x2="2432.1" y2="757.0" stroke="#1f77b4" stroke-width="1.85" stroke-dasharray="5.9,2.6"/>
<path d="M2134.2,742.0 L2193.7,732.1 L2253.4,724.0 L2313.1,730.7 L2372.3,740.6 L2432.1,757.0" fill="none" stroke="#ff7f0e" stroke-width="1.85" stroke-linejoin="round"/>
<circle cx="2134.2" cy="742.0" r="3.7" fill="#ff7f0e"/>
<circle cx="2193.7" cy="732.1" r="3.7" fill="#ff7f0e"/>
<circle cx="2253.4" cy="724.0" r="3.7" fill="#ff7f0e"/>
<circle cx="2313.1" cy="730.7" r="3.7" fill="#ff7f0e"/>
<circle cx="2372.3" cy="740.6" r="3.7" fill="#ff7f0e"/>
<circle cx="2432.1" cy="757.0" r="3.7" fill="#ff7f0e"/>
<path d="M2134.2,810.3 L2193.7,787.2 L2253.4,773.3 L2313.1,762.3 L2372.3,757.0 L2432.1,757.0" fill="none" stroke="#2ca02c" stroke-width="1.85" stroke-linejoin="round"/>
<circle cx="2134.2" cy="810.3" r="3.7" fill="#2ca02c"/>
<circle cx="2193.7" cy="787.2" r="3.7" fill="#2ca02c"/>
<circle cx="2253.4" cy="773.3" r="3.7" fill="#2ca02c"/>
<circle cx="2313.1" cy="762.3" r="3.7" fill="#2ca02c"/>
<circle cx="2372.3" cy="757.0" r="3.7" fill="#2ca02c"/>
<circle cx="2432.1" cy="757.0" r="3.7" fill="#2ca02c"/>
<path d="M2134.2,872.4 L2193.7,808.4 L2253.4,782.4 L2313.1,765.8 L2372.3,760.7 L2432.1,757.0" fill="none" stroke="#d62728" stroke-width="1.85" stroke-linejoin="round"/>
<circle cx="2134.2" cy="872.4" r="3.7" fill="#d62728"/>
<circle cx="2193.7" cy="808.4" r="3.7" fill="#d62728"/>
<circle cx="2253.4" cy="782.4" r="3.7" fill="#d62728"/>
<circle cx="2313.1" cy="765.8" r="3.7" fill="#d62728"/>
<circle cx="2372.3" cy="760.7" r="3.7" fill="#d62728"/>
<circle cx="2432.1" cy="757.0" r="3.7" fill="#d62728"/>
<rect x="2118.4" y="657.3" width="329.7" height="294.1" fill="none" stroke="#222" stroke-width="0.9"/>
<line x1="2134.2" y1="951.4" x2="2134.2" y2="955.2" stroke="#222" stroke-width="0.9"/>
<text x="2137.4" y="979.7" font-size="10.85" text-anchor="middle" fill="#222">512</text>
<line x1="2193.7" y1="951.4" x2="2193.7" y2="955.2" stroke="#222" stroke-width="0.9"/>
<text x="2196.9" y="979.7" font-size="10.85" text-anchor="middle" fill="#222">1024</text>
<line x1="2253.4" y1="951.4" x2="2253.4" y2="955.2" stroke="#222" stroke-width="0.9"/>
<text x="2256.6" y="979.7" font-size="10.85" text-anchor="middle" fill="#222">2048</text>
<line x1="2313.1" y1="951.4" x2="2313.1" y2="955.2" stroke="#222" stroke-width="0.9"/>
<text x="2316.3" y="979.7" font-size="10.85" text-anchor="middle" fill="#222">4096</text>
<line x1="2372.3" y1="951.4" x2="2372.3" y2="955.2" stroke="#222" stroke-width="0.9"/>
<text x="2375.5" y="979.7" font-size="10.85" text-anchor="middle" fill="#222">8192</text>
<line x1="2432.1" y1="951.4" x2="2432.1" y2="955.2" stroke="#222" stroke-width="0.9"/>
<text x="2435.3" y="979.7" font-size="10.85" text-anchor="middle" fill="#222">16384</text>
<text x="2283.2" y="1005.7" font-size="10.85" text-anchor="middle" fill="#222"># Utility Calls</text>
<line x1="2114.6" y1="686.5" x2="2118.4" y2="686.5" stroke="#222" stroke-width="0.9"/>
<text x="2111.1" y="690.4" font-size="10.85" text-anchor="end" fill="#222">80.1</text>
<line x1="2114.6" y1="740.1" x2="2118.4" y2="740.1" stroke="#222" stroke-width="0.9"/>
<text x="2111.1" y="744.0" font-size="10.85" text-anchor="end" fill="#222">80.0</text>
<line x1="2114.6" y1="793.1" x2="2118.4" y2="793.1" stroke="#222" stroke-width="0.9"/>
<text x="2111.1" y="797.0" font-size="10.85" text-anchor="end" fill="#222">79.9</text>
<line x1="2114.6" y1="846.4" x2="2118.4" y2="846.4" stroke="#222" stroke-width="0.9"/>
<text x="2111.1" y="850.3" font-size="10.85" text-anchor="end" fill="#222">79.8</text>
<line x1="2114.6" y1="899.7" x2="2118.4" y2="899.7" stroke="#222" stroke-width="0.9"/>
<text x="2111.1" y="903.6" font-size="10.85" text-anchor="end" fill="#222">79.7</text>
<text transform="translate(2080.5,805.8) rotate(-90)" font-size="10.85" text-anchor="middle" fill="#222">COMET</text>
<rect x="2326.7" y="879.5" width="115.5" height="66.5" rx="2.2" fill="#fff" fill-opacity="0.8" stroke="#d4d4d4" stroke-width="0.9"/>
<line x1="2331.2" y1="889.1" x2="2353.2" y2="889.1" stroke="#1f77b4" stroke-width="1.85" stroke-dasharray="5.9,2.6"/>
<text x="2361.7" y="892.5" font-size="10.85" fill="#222">full_mbr</text>
<line x1="2331.2" y1="904.9" x2="2353.2" y2="904.9" stroke="#ff7f0e" stroke-width="1.85"/>
<circle cx="2342.2" cy="904.9" r="3.7" fill="#ff7f0e"/>
<text x="2361.7" y="908.3" font-size="10.85" fill="#222">approx(PMBR)</text>
<line x1="2331.2" y1="920.7" x2="2353.2" y2="920.7" stroke="#2ca02c" stroke-width="1.85"/>
<circle cx="2342.2" cy="920.7" r="3.7" fill="#2ca02c"/>
<text x="2361.7" y="924.1" font-size="10.85" fill="#222">approx(SxS)</text>
<line x1="2331.2" y1="936.5" x2="2353.2" y2="936.5" stroke="#d62728" stroke-width="1.85"/>
<circle cx="2342.2" cy="936.5" r="3.7" fill="#d62728"/>
<text x="2361.7" y="939.9" font-size="10.85" fill="#222">approx(NxK)</text>
</g></svg>
<svg width="2500" height="1666" viewBox="0 0 2500 1666" style="pointer-events:none"><g font-family='"Liberation Serif","Times New Roman",serif' font-size="18.2" fill="#111">
<rect x="1740" y="1059.55" width="711.6" height="1.5" fill="#333"/>
<rect x="1740" y="1108.55" width="711.6" height="1.1" fill="#333"/>
<rect x="1740" y="1177.15" width="711.6" height="1.5" fill="#333"/>
<text x="1967.7" y="1080.3" text-anchor="middle" letter-spacing="1.25">1/32</text>
<text x="2048.2" y="1080.3" text-anchor="middle" letter-spacing="1.25">1/16</text>
<text x="2132.1" y="1080.3" text-anchor="middle" letter-spacing="1.25">1/8</text>
<text x="2220.6" y="1080.3" text-anchor="middle" letter-spacing="1.25">1/4</text>
<text x="2309.1" y="1080.3" text-anchor="middle" letter-spacing="1.25">1/2</text>
<text x="2402.5" y="1080.3" text-anchor="middle" letter-spacing="1.25">1/1</text>
<text x="1967.7" y="1100.0" text-anchor="middle">512</text>
<text x="2048.2" y="1100.0" text-anchor="middle">1024</text>
<text x="2132.1" y="1100.0" text-anchor="middle">2048</text>
<text x="2220.6" y="1100.0" text-anchor="middle">4096</text>
<text x="2309.1" y="1100.0" text-anchor="middle">8192</text>
<text x="2402.5" y="1100.0" text-anchor="middle">16384</text>
<text x="1967.7" y="1129.3" text-anchor="middle">512</text>
<text x="2048.2" y="1129.3" text-anchor="middle">1&#8201;024</text>
<text x="2132.1" y="1129.3" text-anchor="middle">2&#8201;048</text>
<text x="2220.6" y="1129.3" text-anchor="middle">4&#8201;096</text>
<text x="2309.1" y="1129.3" text-anchor="middle">8&#8201;192</text>
<text x="2402.5" y="1129.3" text-anchor="middle">16&#8201;384</text>
<text x="1967.7" y="1149.2" text-anchor="middle">128 × 4</text>
<text x="2048.2" y="1149.2" text-anchor="middle">128 × 8</text>
<text x="2132.1" y="1149.2" text-anchor="middle">128 × 16</text>
<text x="2220.6" y="1149.2" text-anchor="middle">128 × 32</text>
<text x="2309.1" y="1149.2" text-anchor="middle">128 × 64</text>
<text x="2402.5" y="1149.2" text-anchor="middle">128 × 128</text>
<text x="1967.7" y="1168.8" text-anchor="middle">22 × 22</text>
<text x="2048.2" y="1168.8" text-anchor="middle">32 × 32</text>
<text x="2132.1" y="1168.8" text-anchor="middle">45 × 45</text>
<text x="2220.6" y="1168.8" text-anchor="middle">64 × 64</text>
<text x="2309.1" y="1168.8" text-anchor="middle">90 × 90</text>
<text x="2402.5" y="1168.8" text-anchor="middle">128 × 128</text>
<text x="1823.4" y="1080.3">budget</text>
<text x="1823.4" y="1100.0"># utility calls</text>
<text x="1823.4" y="1129.3">PMBR (|Ω|)</text>
<text x="1823.4" y="1149.2"><tspan font-style="italic">N</tspan><tspan dx="1">×</tspan><tspan font-style="italic" dx="4.5">K</tspan></text>
<text x="1823.4" y="1168.8"><tspan font-style="italic">S</tspan><tspan dx="1.5">×</tspan><tspan font-style="italic" dx="1.5">S</tspan></text>
<text x="1775.6" y="1141.0" text-anchor="middle">Matrix</text>
<text x="1775.6" y="1160.8" text-anchor="middle">size</text>
</g></svg>
<svg width="2500" height="1666" viewBox="0 0 2500 1666" style="pointer-events:none"><path d="M2294.95,1469.10h42.47v6.07h-42.47zM2349.56,1469.10h18.20v6.07h-18.20zM2373.82,1469.10h12.13v6.07h-12.13zM2398.09,1469.10h6.07v6.07h-6.07zM2416.29,1469.10h6.07v6.07h-6.07zM2428.43,1469.10h42.47v6.07h-42.47zM2294.95,1475.17h6.07v6.07h-6.07zM2331.35,1475.17h6.07v6.07h-6.07zM2343.49,1475.17h18.20v6.07h-18.20zM2367.76,1475.17h6.07v6.07h-6.07zM2379.89,1475.17h6.07v6.07h-6.07zM2392.03,1475.17h6.07v6.07h-6.07zM2416.29,1475.17h6.07v6.07h-6.07zM2428.43,1475.17h6.07v6.07h-6.07zM2464.83,1475.17h6.07v6.07h-6.07zM2294.95,1481.23h6.07v6.07h-6.07zM2307.08,1481.23h18.20v6.07h-18.20zM2331.35,1481.23h6.07v6.07h-6.07zM2355.62,1481.23h6.07v6.07h-6.07zM2367.76,1481.23h12.13v6.07h-12.13zM2392.03,1481.23h6.07v6.07h-6.07zM2428.43,1481.23h6.07v6.07h-6.07zM2440.56,1481.23h18.20v6.07h-18.20zM2464.83,1481.23h6.07v6.07h-6.07zM2294.95,1487.30h6.07v6.07h-6.07zM2307.08,1487.30h18.20v6.07h-18.20zM2331.35,1487.30h6.07v6.07h-6.07zM2355.62,1487.30h18.20v6.07h-18.20zM2385.96,1487.30h24.27v6.07h-24.27zM2428.43,1487.30h6.07v6.07h-6.07zM2440.56,1487.30h18.20v6.07h-18.20zM2464.83,1487.30h6.07v6.07h-6.07zM2294.95,1493.37h6.07v6.07h-6.07zM2307.08,1493.37h18.20v6.07h-18.20zM2331.35,1493.37h6.07v6.07h-6.07zM2343.49,1493.37h18.20v6.07h-18.20zM2373.82,1493.37h6.07v6.07h-6.07zM2398.09,1493.37h24.27v6.07h-24.27zM2428.43,1493.37h6.07v6.07h-6.07zM2440.56,1493.37h18.20v6.07h-18.20zM2464.83,1493.37h6.07v6.07h-6.07zM2294.95,1499.44h6.07v6.07h-6.07zM2331.35,1499.44h6.07v6.07h-6.07zM2349.56,1499.44h12.13v6.07h-12.13zM2367.76,1499.44h12.13v6.07h-12.13zM2385.96,1499.44h12.13v6.07h-12.13zM2410.23,1499.44h6.07v6.07h-6.07zM2428.43,1499.44h6.07v6.07h-6.07zM2464.83,1499.44h6.07v6.07h-6.07zM2294.95,1505.50h42.47v6.07h-42.47zM2343.49,1505.50h6.07v6.07h-6.07zM2355.62,1505.50h6.07v6.07h-6.07zM2367.76,1505.50h6.07v6.07h-6.07zM2379.89,1505.50h6.07v6.07h-6.07zM2392.03,1505.50h6.07v6.07h-6.07zM2404.16,1505.50h6.07v6.07h-6.07zM2416.29,1505.50h6.07v6.07h-6.07zM2428.43,1505.50h42.47v6.07h-42.47zM2349.56,1511.57h6.07v6.07h-6.07zM2361.69,1511.57h12.13v6.07h-12.13zM2385.96,1511.57h36.40v6.07h-36.40zM2307.08,1517.64h6.07v6.07h-6.07zM2319.22,1517.64h18.20v6.07h-18.20zM2343.49,1517.64h36.40v6.07h-36.40zM2385.96,1517.64h6.07v6.07h-6.07zM2398.09,1517.64h6.07v6.07h-6.07zM2410.23,1517.64h6.07v6.07h-6.07zM2422.36,1517.64h6.07v6.07h-6.07zM2440.56,1517.64h6.07v6.07h-6.07zM2458.77,1517.64h6.07v6.07h-6.07zM2301.02,1523.71h6.07v6.07h-6.07zM2319.22,1523.71h6.07v6.07h-6.07zM2337.42,1523.71h6.07v6.07h-6.07zM2355.62,1523.71h6.07v6.07h-6.07zM2385.96,1523.71h12.13v6.07h-12.13zM2410.23,1523.71h12.13v6.07h-12.13zM2440.56,1523.71h18.20v6.07h-18.20zM2464.83,1523.71h6.07v6.07h-6.07zM2294.95,1529.77h6.07v6.07h-6.07zM2307.08,1529.77h12.13v6.07h-12.13zM2325.29,1529.77h18.20v6.07h-18.20zM2349.56,1529.77h12.13v6.07h-12.13zM2367.76,1529.77h18.20v6.07h-18.20zM2398.09,1529.77h18.20v6.07h-18.20zM2422.36,1529.77h12.13v6.07h-12.13zM2440.56,1529.77h6.07v6.07h-6.07zM2307.08,1535.84h6.07v6.07h-6.07zM2319.22,1535.84h12.13v6.07h-12.13zM2343.49,1535.84h6.07v6.07h-6.07zM2355.62,1535.84h18.20v6.07h-18.20zM2379.89,1535.84h12.13v6.07h-12.13zM2398.09,1535.84h12.13v6.07h-12.13zM2416.29,1535.84h6.07v6.07h-6.07zM2434.50,1535.84h12.13v6.07h-12.13zM2464.83,1535.84h6.07v6.07h-6.07zM2307.08,1541.91h6.07v6.07h-6.07zM2319.22,1541.91h18.20v6.07h-18.20zM2355.62,1541.91h18.20v6.07h-18.20zM2379.89,1541.91h12.13v6.07h-12.13zM2422.36,1541.91h6.07v6.07h-6.07zM2434.50,1541.91h24.27v6.07h-24.27zM2464.83,1541.91h6.07v6.07h-6.07zM2294.95,1547.97h12.13v6.07h-12.13zM2313.15,1547.97h18.20v6.07h-18.20zM2337.42,1547.97h48.54v6.07h-48.54zM2398.09,1547.97h12.13v6.07h-12.13zM2416.29,1547.97h12.13v6.07h-12.13zM2440.56,1547.97h6.07v6.07h-6.07zM2464.83,1547.97h6.07v6.07h-6.07zM2301.02,1554.04h12.13v6.07h-12.13zM2319.22,1554.04h6.07v6.07h-6.07zM2331.35,1554.04h6.07v6.07h-6.07zM2343.49,1554.04h6.07v6.07h-6.07zM2355.62,1554.04h6.07v6.07h-6.07zM2379.89,1554.04h12.13v6.07h-12.13zM2398.09,1554.04h24.27v6.07h-24.27zM2434.50,1554.04h12.13v6.07h-12.13zM2452.70,1554.04h6.07v6.07h-6.07zM2464.83,1554.04h6.07v6.07h-6.07zM2294.95,1560.11h24.27v6.07h-24.27zM2343.49,1560.11h6.07v6.07h-6.07zM2367.76,1560.11h30.34v6.07h-30.34zM2404.16,1560.11h6.07v6.07h-6.07zM2422.36,1560.11h12.13v6.07h-12.13zM2440.56,1560.11h18.20v6.07h-18.20zM2301.02,1566.18h12.13v6.07h-12.13zM2319.22,1566.18h6.07v6.07h-6.07zM2331.35,1566.18h12.13v6.07h-12.13zM2349.56,1566.18h6.07v6.07h-6.07zM2361.69,1566.18h18.20v6.07h-18.20zM2404.16,1566.18h24.27v6.07h-24.27zM2440.56,1566.18h6.07v6.07h-6.07zM2458.77,1566.18h6.07v6.07h-6.07zM2294.95,1572.24h6.07v6.07h-6.07zM2307.08,1572.24h6.07v6.07h-6.07zM2337.42,1572.24h36.40v6.07h-36.40zM2385.96,1572.24h12.13v6.07h-12.13zM2410.23,1572.24h42.47v6.07h-42.47zM2458.77,1572.24h12.13v6.07h-12.13zM2301.02,1578.31h6.07v6.07h-6.07zM2313.15,1578.31h24.27v6.07h-24.27zM2343.49,1578.31h6.07v6.07h-6.07zM2361.69,1578.31h6.07v6.07h-6.07zM2392.03,1578.31h6.07v6.07h-6.07zM2404.16,1578.31h6.07v6.07h-6.07zM2416.29,1578.31h12.13v6.07h-12.13zM2440.56,1578.31h6.07v6.07h-6.07zM2452.70,1578.31h6.07v6.07h-6.07zM2301.02,1584.38h18.20v6.07h-18.20zM2325.29,1584.38h6.07v6.07h-6.07zM2337.42,1584.38h12.13v6.07h-12.13zM2361.69,1584.38h12.13v6.07h-12.13zM2392.03,1584.38h6.07v6.07h-6.07zM2416.29,1584.38h30.34v6.07h-30.34zM2452.70,1584.38h18.20v6.07h-18.20zM2294.95,1590.44h24.27v6.07h-24.27zM2325.29,1590.44h12.13v6.07h-12.13zM2343.49,1590.44h12.13v6.07h-12.13zM2361.69,1590.44h6.07v6.07h-6.07zM2379.89,1590.44h6.07v6.07h-6.07zM2398.09,1590.44h6.07v6.07h-6.07zM2416.29,1590.44h30.34v6.07h-30.34zM2452.70,1590.44h18.20v6.07h-18.20zM2343.49,1596.51h24.27v6.07h-24.27zM2379.89,1596.51h12.13v6.07h-12.13zM2398.09,1596.51h6.07v6.07h-6.07zM2416.29,1596.51h6.07v6.07h-6.07zM2440.56,1596.51h6.07v6.07h-6.07zM2452.70,1596.51h6.07v6.07h-6.07zM2294.95,1602.58h42.47v6.07h-42.47zM2349.56,1602.58h6.07v6.07h-6.07zM2373.82,1602.58h12.13v6.07h-12.13zM2398.09,1602.58h6.07v6.07h-6.07zM2416.29,1602.58h6.07v6.07h-6.07zM2428.43,1602.58h6.07v6.07h-6.07zM2440.56,1602.58h6.07v6.07h-6.07zM2458.77,1602.58h6.07v6.07h-6.07zM2294.95,1608.65h6.07v6.07h-6.07zM2331.35,1608.65h6.07v6.07h-6.07zM2343.49,1608.65h6.07v6.07h-6.07zM2367.76,1608.65h6.07v6.07h-6.07zM2385.96,1608.65h6.07v6.07h-6.07zM2410.23,1608.65h12.13v6.07h-12.13zM2440.56,1608.65h12.13v6.07h-12.13zM2458.77,1608.65h6.07v6.07h-6.07zM2294.95,1614.71h6.07v6.07h-6.07zM2307.08,1614.71h18.20v6.07h-18.20zM2331.35,1614.71h6.07v6.07h-6.07zM2343.49,1614.71h24.27v6.07h-24.27zM2373.82,1614.71h12.13v6.07h-12.13zM2398.09,1614.71h12.13v6.07h-12.13zM2416.29,1614.71h30.34v6.07h-30.34zM2464.83,1614.71h6.07v6.07h-6.07zM2294.95,1620.78h6.07v6.07h-6.07zM2307.08,1620.78h18.20v6.07h-18.20zM2331.35,1620.78h6.07v6.07h-6.07zM2355.62,1620.78h18.20v6.07h-18.20zM2385.96,1620.78h6.07v6.07h-6.07zM2398.09,1620.78h24.27v6.07h-24.27zM2434.50,1620.78h6.07v6.07h-6.07zM2446.63,1620.78h6.07v6.07h-6.07zM2458.77,1620.78h6.07v6.07h-6.07zM2294.95,1626.85h6.07v6.07h-6.07zM2307.08,1626.85h18.20v6.07h-18.20zM2331.35,1626.85h6.07v6.07h-6.07zM2343.49,1626.85h6.07v6.07h-6.07zM2355.62,1626.85h6.07v6.07h-6.07zM2373.82,1626.85h6.07v6.07h-6.07zM2398.09,1626.85h6.07v6.07h-6.07zM2422.36,1626.85h6.07v6.07h-6.07zM2446.63,1626.85h12.13v6.07h-12.13zM2294.95,1632.92h6.07v6.07h-6.07zM2331.35,1632.92h6.07v6.07h-6.07zM2349.56,1632.92h6.07v6.07h-6.07zM2361.69,1632.92h6.07v6.07h-6.07zM2379.89,1632.92h6.07v6.07h-6.07zM2392.03,1632.92h6.07v6.07h-6.07zM2410.23,1632.92h6.07v6.07h-6.07zM2434.50,1632.92h6.07v6.07h-6.07zM2452.70,1632.92h18.20v6.07h-18.20zM2294.95,1638.98h42.47v6.07h-42.47zM2349.56,1638.98h36.40v6.07h-36.40zM2398.09,1638.98h18.20v6.07h-18.20zM2422.36,1638.98h12.13v6.07h-12.13zM2446.63,1638.98h18.20v6.07h-18.20z" fill="#000" shape-rendering="crispEdges"/></svg>
<svg width="2500" height="1666" viewBox="0 0 2500 1666" style="pointer-events:none">
<defs><linearGradient id="lg" gradientUnits="userSpaceOnUse" x1="0" y1="150" x2="0" y2="2250"><stop offset="0" stop-color="#653f8a"/><stop offset="0.36" stop-color="#6d4892"/><stop offset="0.48" stop-color="#8a62a4"/><stop offset="1" stop-color="#9870ac"/></linearGradient></defs>
<g transform="translate(2080,40) scale(0.072254)" fill="url(#lg)" stroke="none">
<ellipse cx="1197" cy="235" rx="62" ry="88" transform="rotate(-15 1197 235)"/>
<ellipse cx="1582" cy="275" rx="52" ry="78" transform="rotate(-5 1582 275)"/>
<ellipse cx="1740" cy="345" rx="42" ry="65" transform="rotate(-15 1740 345)"/>
<ellipse cx="1863" cy="447" rx="36" ry="55" transform="rotate(5 1863 447)"/>
<ellipse cx="1403" cy="435" rx="45" ry="62" transform="rotate(-10 1403 435)"/>
<ellipse cx="1555" cy="455" rx="38" ry="55" transform="rotate(5 1555 455)"/>
<ellipse cx="1685" cy="507" rx="35" ry="50" transform="rotate(10 1685 507)"/>
<ellipse cx="1535" cy="590" rx="30" ry="42" transform="rotate(0 1535 590)"/>
<ellipse cx="2045" cy="650" rx="25" ry="42" transform="rotate(25 2045 650)"/>
<ellipse cx="2103" cy="722" rx="14" ry="26" transform="rotate(25 2103 722)"/>
<ellipse cx="780" cy="378" rx="72" ry="90" transform="rotate(-30 780 378)"/>
<ellipse cx="485" cy="655" rx="85" ry="72" transform="rotate(25 485 655)"/>
<ellipse cx="478" cy="872" rx="85" ry="68" transform="rotate(20 478 872)"/>
<ellipse cx="725" cy="765" rx="65" ry="55" transform="rotate(20 725 765)"/>
<ellipse cx="1080" cy="500" rx="55" ry="68" transform="rotate(-20 1080 500)"/>
<ellipse cx="1287" cy="617" rx="42" ry="48" transform="rotate(-10 1287 617)"/>
<ellipse cx="1050" cy="750" rx="45" ry="48" transform="rotate(-10 1050 750)"/>
<ellipse cx="348" cy="685" rx="28" ry="16" transform="rotate(-20 348 685)"/>
<ellipse cx="315" cy="772" rx="42" ry="26" transform="rotate(-15 315 772)"/>
<ellipse cx="220" cy="1030" rx="55" ry="35" transform="rotate(-20 220 1030)"/>
<ellipse cx="362" cy="1156" rx="48" ry="35" transform="rotate(-20 362 1156)"/>
<ellipse cx="507" cy="1248" rx="40" ry="30" transform="rotate(-20 507 1248)"/>
<ellipse cx="378" cy="1296" rx="50" ry="42" transform="rotate(-25 378 1296)"/>
<ellipse cx="210" cy="1360" rx="72" ry="55" transform="rotate(-30 210 1360)"/>
<ellipse cx="438" cy="1436" rx="58" ry="48" transform="rotate(-25 438 1436)"/>
<ellipse cx="655" cy="1448" rx="48" ry="40" transform="rotate(-20 655 1448)"/>
<ellipse cx="362" cy="1713" rx="75" ry="72" transform="rotate(-30 362 1713)"/>
<ellipse cx="650" cy="1693" rx="58" ry="58" transform="rotate(-20 650 1693)"/>
<ellipse cx="885" cy="1593" rx="45" ry="48" transform="rotate(0 885 1593)"/>
<ellipse cx="1058" cy="1868" rx="52" ry="65" transform="rotate(0 1058 1868)"/>
<ellipse cx="690" cy="2013" rx="72" ry="90" transform="rotate(20 690 2013)"/>
<ellipse cx="1275" cy="2033" rx="65" ry="88" transform="rotate(0 1275 2033)"/>
<ellipse cx="1080" cy="2138" rx="68" ry="95" transform="rotate(0 1080 2138)"/>
<path d="M960,200 C976,201 1004,212 1020,225 C1036,238 1044,262 1055,280 C1066,298 1071,320 1085,335 C1099,350 1119,364 1140,372 C1161,380 1187,386 1210,385 C1233,384 1261,377 1280,365 C1299,353 1313,336 1322,315 C1331,294 1330,263 1335,240 C1340,217 1340,190 1350,175 C1360,160 1380,149 1395,150 C1410,151 1430,164 1440,180 C1450,196 1458,226 1457,245 C1456,264 1448,281 1435,295 C1422,309 1398,317 1380,330 C1362,343 1343,358 1330,375 C1317,392 1308,412 1302,430 C1296,448 1287,465 1292,480 C1297,495 1312,509 1330,520 C1348,531 1381,534 1400,545 C1419,556 1440,571 1445,585 C1450,599 1438,623 1430,630 C1422,637 1407,634 1395,625 C1383,616 1378,592 1360,575 C1342,558 1312,538 1290,525 C1268,512 1242,511 1225,500 C1208,489 1202,475 1190,460 C1178,445 1168,423 1150,410 C1132,397 1105,388 1080,382 C1055,376 1023,382 1000,375 C977,368 954,357 940,340 C926,323 918,295 915,275 C912,255 918,232 925,220 C932,208 944,199 960,200Z"/>
<path d="M520,455 C526,440 538,418 555,412 C572,406 599,411 620,420 C641,429 660,452 680,468 C700,484 719,508 740,518 C761,528 783,531 805,530 C827,529 851,516 870,513 C889,510 905,509 920,515 C935,521 947,537 962,550 C977,563 992,580 1012,592 C1032,604 1058,615 1080,620 C1102,625 1126,614 1145,620 C1164,626 1187,642 1195,655 C1203,668 1202,689 1195,700 C1188,711 1168,722 1155,720 C1142,718 1134,700 1118,688 C1102,676 1081,658 1060,648 C1039,638 1010,627 990,626 C970,625 952,630 940,642 C928,654 919,679 915,700 C911,721 911,750 915,770 C919,790 933,807 940,822 C947,837 958,850 955,862 C952,874 932,892 920,897 C908,902 891,898 880,890 C869,882 855,867 855,850 C855,833 874,812 880,790 C886,768 892,745 892,720 C892,695 889,663 880,640 C871,617 857,596 840,582 C823,568 803,560 780,556 C757,552 727,557 700,560 C673,563 644,578 620,576 C596,574 575,562 558,550 C541,538 526,521 520,505 C514,489 514,470 520,455Z"/>
<path d="M1700,330 C1705,311 1727,282 1740,280 C1753,278 1771,300 1778,320 C1785,340 1780,373 1782,400 C1784,427 1784,458 1790,480 C1796,502 1802,517 1815,530 C1828,543 1852,557 1870,557 C1888,557 1908,535 1925,528 C1942,521 1962,510 1975,515 C1988,520 2000,543 2000,560 C2000,577 1985,607 1975,615 C1965,623 1953,615 1940,610 C1927,605 1910,590 1895,585 C1880,580 1867,576 1850,580 C1833,584 1808,610 1795,612 C1782,614 1775,605 1770,590 C1765,575 1769,545 1765,520 C1761,495 1754,461 1745,440 C1736,419 1720,413 1712,395 C1704,377 1695,349 1700,330Z"/>
<path d="M240,885 C246,874 265,851 280,850 C295,849 323,867 330,880 C337,893 318,913 322,930 C326,947 339,967 352,980 C365,993 392,996 400,1008 C408,1020 410,1040 402,1050 C394,1060 369,1056 352,1066 C335,1076 315,1094 300,1110 C285,1126 272,1143 262,1160 C252,1177 252,1197 240,1210 C228,1223 207,1239 190,1240 C173,1241 147,1228 140,1215 C133,1202 137,1179 150,1165 C163,1151 198,1146 220,1130 C242,1114 265,1087 282,1072 C299,1057 317,1054 322,1040 C327,1026 319,1008 312,990 C305,972 293,948 282,935 C271,922 252,923 245,915 C238,907 234,896 240,885Z"/>
<path d="M570,1316 C582,1318 606,1334 610,1348 C614,1362 598,1378 592,1398 C586,1418 577,1441 577,1468 C577,1495 592,1526 590,1558 C588,1590 569,1628 562,1658 C555,1688 545,1711 548,1738 C551,1765 576,1793 582,1818 C588,1843 593,1866 586,1888 C579,1910 559,1941 540,1953 C521,1965 488,1967 470,1958 C452,1949 438,1920 435,1898 C432,1876 441,1850 452,1828 C463,1806 490,1791 500,1768 C510,1745 517,1713 515,1688 C513,1663 502,1636 490,1618 C478,1600 458,1587 440,1578 C422,1569 403,1560 380,1563 C357,1566 325,1590 300,1598 C275,1606 248,1618 230,1613 C212,1608 193,1587 190,1568 C187,1549 195,1517 210,1500 C225,1483 258,1468 280,1468 C302,1468 319,1488 342,1498 C365,1508 394,1522 420,1528 C446,1534 479,1538 500,1533 C521,1528 536,1516 545,1498 C554,1480 557,1448 555,1428 C553,1408 538,1394 535,1378 C532,1362 534,1343 540,1333 C546,1323 558,1314 570,1316Z"/>
<path d="M762,1493 C775,1495 800,1512 805,1528 C810,1544 794,1566 792,1588 C790,1610 786,1635 792,1658 C798,1681 812,1716 830,1728 C848,1740 878,1736 900,1733 C922,1730 943,1722 960,1708 C977,1694 986,1663 1000,1648 C1014,1633 1029,1616 1045,1618 C1061,1620 1089,1643 1095,1658 C1101,1673 1092,1697 1080,1708 C1068,1719 1042,1719 1020,1724 C998,1729 972,1729 950,1738 C928,1747 906,1761 890,1778 C874,1795 858,1816 852,1838 C846,1860 846,1883 852,1908 C858,1933 875,1963 890,1988 C905,2013 930,2033 940,2058 C950,2083 957,2113 950,2138 C943,2163 918,2197 900,2208 C882,2219 856,2215 840,2203 C824,2191 808,2164 805,2138 C802,2112 814,2075 820,2048 C826,2021 842,2001 840,1978 C838,1955 825,1928 810,1908 C795,1888 764,1875 752,1858 C740,1841 735,1830 736,1808 C737,1786 756,1753 760,1728 C764,1703 766,1683 760,1658 C754,1633 728,1601 722,1578 C716,1555 719,1532 726,1518 C733,1504 749,1491 762,1493Z"/>
</g>
<g font-family='"Liberation Sans",Arial,sans-serif' font-size="24.9" fill="#2f3137" stroke="#2f3137" stroke-width="0.45">
<text x="2161.6" y="122.5" textLength="279.3" lengthAdjust="spacingAndGlyphs">NEURAL INFORMATION</text>
<text x="2162.1" y="147.8" textLength="278" lengthAdjust="spacingAndGlyphs">PROCESSING SYSTEMS</text>
</g></svg>

</div></body></html>
